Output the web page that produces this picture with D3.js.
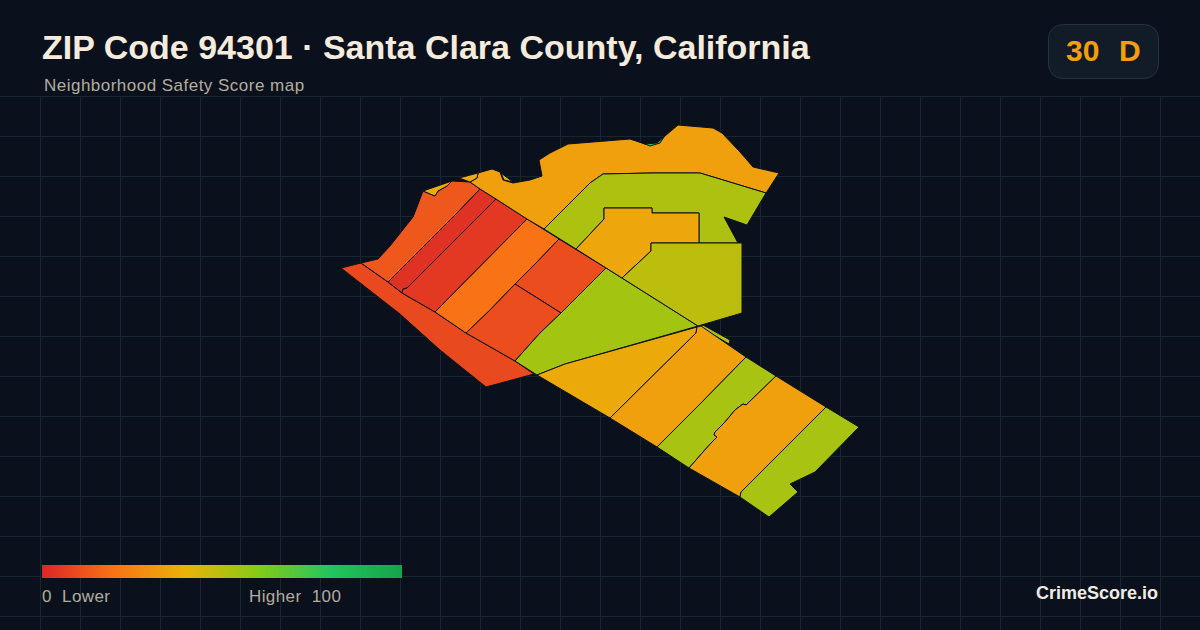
<!DOCTYPE html>
<html>
<head>
<meta charset="utf-8">
<script src="https://cdn.jsdelivr.net/npm/d3@7"></script>
<style>
  html, body { margin: 0; padding: 0; background: #0a111c; }
  svg { display: block; font-family: "Liberation Sans", Arial, sans-serif; }
</style>
</head>
<body>
<svg id="mapa" width="1200" height="630"></svg>
<script>
// scores
const tractNames = ["sw", "nw", "red1", "red2", "orange", "midN", "midS", "triangle", "bay", "north", "inner", "east", "sliver", "s1", "s2", "s3", "s4", "s5", "yel1", "yel2", "yel3", "grn1"];
const tractScores = [9, 13, 3, 5, 20, 10, 10, 54, 34, 52, 36, 49, 52, 37, 34, 53, 34, 53, 38, 38, 38, 75];

// outlines in map units
const tractRings = [
  [[341,268],[361,263],[388,282],[402,293],[435,312],[466,333],[515,361],[534,374],[486,387],[440,350],[400,314]],
  [[361,263],[378,259],[390,246],[413,217],[417,207],[423,191],[435,196],[438,191],[447,186],[452,181],[470,182],[480,189],[458,212],[388,282]],
  [[480,189],[496,199],[452,243],[407,288],[403,289],[402,293],[388,282],[458,212]],
  [[496,199],[527,219],[435,312],[402,293],[403,289],[407,288],[452,243]],
  [[527,219],[559,239],[537,262],[515,284],[490,310],[466,333],[435,312]],
  [[559,239],[606,268],[561,313],[515,284],[537,262]],
  [[515,284],[561,313],[540,333],[515,361],[466,333],[490,310]],
  [[606,268],[698,326],[565,364],[537,375],[515,361],[540,333],[561,313]],
  [[470,182],[477,178],[478,173],[492,169],[500,172],[503,180],[513,183],[530,180],[542,176],[539,160],[550,153],[568,144],[630,139],[645,144],[657,143],[665,136],[678,125],[713,128],[722,133],[740,152],[753,167],[779,173],[766,193],[700,173],[652,173],[603,174],[590,183],[544,229],[527,219],[496,199],[480,189]],
  [[544,229],[590,183],[603,174],[652,173],[700,173],[766,193],[747,225],[724,217],[738,243],[699,243],[699,213],[652,213],[652,208],[604,208],[604,219],[576,249]],
  [[604,208],[652,208],[652,213],[699,213],[699,243],[651,243],[651,251],[622,278],[576,249],[604,219]],
  [[651,243],[742,243],[742,313],[698,326],[622,278],[651,251]],
  [[703,325],[730,340],[729,344],[700,327]],
  [[537,375],[565,364],[697,327],[696,333],[610,418]],
  [[697,327],[701,326],[746,357],[702,402],[657,447],[610,418],[696,333]],
  [[746,357],[776,376],[746,405],[743,404],[735,410],[725,422],[715,432],[714,435],[717,437],[712,442],[703,452],[689,468],[657,447],[702,402]],
  [[776,376],[826,407],[741,492],[740,497],[689,468],[703,452],[712,442],[717,437],[714,435],[715,432],[725,422],[735,410],[743,404],[746,405]],
  [[826,407],[859,427],[815,472],[790,484],[798,492],[769,517],[740,497],[741,492]],
  [[423,191],[452,181],[447,186],[438,191],[435,196]],
  [[459,178],[478,173],[477,178],[470,182]],
  [[501,173],[513,182],[504,180]],
  [[638,141],[645,144],[657,143],[664,137],[660,143],[650,146]]
];

const legendScores = [0, 20, 40, 60, 80, 100];
const legendColors = ["#dc2626", "#f97316", "#eab308", "#84cc16", "#22c55e", "#16a34a"];

const svg = d3.select("#mapa");
const W = 1200, H = 630;

const fondo = svg.append("defs").append("linearGradient").attr("id", "leyenda");
const color = d3.scaleLinear().domain(legendScores).range(legendColors);

legendScores.forEach(s => {
  fondo.append("stop").attr("offset", s + "%").attr("stop-color", color(s));
});

svg.append("rect").attr("width", W).attr("height", H).attr("fill", "#0a111c");

// grid, starts under the header
const grid = svg.append("g").attr("stroke", "#182631").attr("stroke-width", 1);
d3.range(40, W, 40).forEach(x => {
  grid.append("line").attr("x1", x + 0.5).attr("x2", x + 0.5).attr("y1", 96).attr("y2", H);
});
d3.range(96, H, 40).forEach(y => {
  grid.append("line").attr("x1", 0).attr("x2", W).attr("y1", y + 0.5).attr("y2", y + 0.5);
});

// map units line up 1:1 with the frame
const x = d3.scaleLinear().domain([340, 860]).range([340, 860]);
const y = d3.scaleLinear().domain([125, 517]).range([125, 517]);
const linea = d3.line().x(d => x(d[0])).y(d => y(d[1])).curve(d3.curveLinearClosed);

svg.append("g").selectAll("path")
  .data(tractRings)
  .join("path")
  .attr("class", (d, i) => "tract " + tractNames[i])
  .attr("d", linea)
  .attr("fill", (d, i) => color(tractScores[i]))
  .attr("stroke", "#0a111c")
  .attr("stroke-width", 1)
  .attr("stroke-linejoin", "round");

// header
svg.append("text").attr("x", 42).attr("y", 59)
  .attr("fill", "#f5ebdc").attr("font-size", 34).attr("font-weight", 700)
  .text("ZIP Code 94301 · Santa Clara County, California");
svg.append("text").attr("x", 44).attr("y", 91)
  .attr("fill", "#b3ad9f").attr("font-size", 17).attr("letter-spacing", 0.48)
  .text("Neighborhood Safety Score map");

// score badge
svg.append("rect").attr("x", 1048.5).attr("y", 24.5).attr("width", 110).attr("height", 54).attr("rx", 14)
  .attr("fill", "#111c28").attr("stroke", "#253240");
svg.append("text").attr("x", 1066).attr("y", 61)
  .attr("fill", "#f59e0b").attr("font-size", 30).attr("font-weight", 700)
  .text("30");
svg.append("text").attr("x", 1119).attr("y", 61)
  .attr("fill", "#f59e0b").attr("font-size", 30).attr("font-weight", 700)
  .text("D");

// legend
svg.append("rect").attr("x", 42).attr("y", 565).attr("width", 360).attr("height", 13).attr("fill", "url(#leyenda)");
const etiquetas = svg.append("g").attr("fill", "#b3ad9f").attr("font-size", 17).attr("letter-spacing", 0.4);
etiquetas.append("text").attr("x", 42).attr("y", 602).text("0\u00a0\u00a0Lower");
etiquetas.append("text").attr("x", 249).attr("y", 602).text("Higher\u00a0\u00a0100");

svg.append("text").attr("x", 1158).attr("y", 599).attr("text-anchor", "end")
  .attr("fill", "#f0ece4").attr("font-size", 18).attr("font-weight", 700)
  .text("CrimeScore.io");
</script>
</body>
</html>
